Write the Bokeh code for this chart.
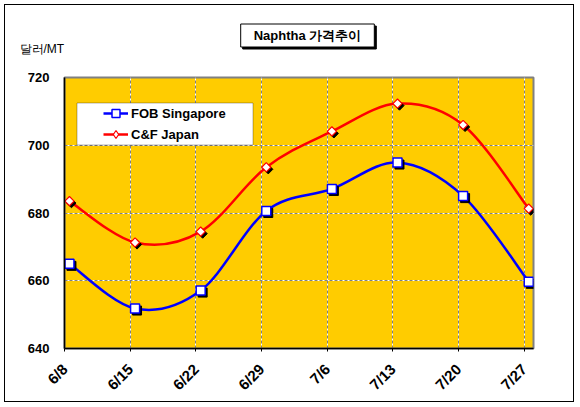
import numpy as np
from bokeh.plotting import figure
from bokeh.models import (ColumnDataSource, Range1d, FixedTicker, Grid, Legend,
                          LegendItem, BoxAnnotation, Label)
from bokeh.transform import dodge
from bokeh.embed import file_html
from bokeh.resources import INLINE

# ---- data ----
dates = ["6/8", "6/15", "6/22", "6/29", "7/6", "7/13", "7/20", "7/27"]
day_offset = [0, 7, 14, 21, 28, 35, 42, 49]
fob_singapore = [665.0, 651.8, 657.1, 680.6, 687.1, 694.9, 685.0, 659.7]
cf_japan = [683.5, 671.3, 674.5, 693.5, 704.1, 712.3, 706.0, 681.3]
y_ticks = [640, 660, 680, 700, 720]
y_grid = [660, 680, 700]
series_names = ["FOB Singapore", "C&F Japan"]
title_text = "Naphtha 가격추이"
unit_text = "달러/MT"

FONT = "Liberation Sans"
OX = 5  # canvas origin inside the 1px chart border (page x = canvas x + OX)

src = ColumnDataSource(dict(x=day_offset, fob=fob_singapore, cf=cf_japan))


def smooth_source(xs, ys):
    xs = np.asarray(xs, float)
    ys = np.asarray(ys, float)
    n = len(xs)
    d = dict(x0=[], y0=[], x1=[], y1=[], cx0=[], cy0=[], cx1=[], cy1=[])
    for i in range(n - 1):
        im = max(i - 1, 0)
        ip = min(i + 2, n - 1)
        d["x0"].append(xs[i]); d["y0"].append(ys[i])
        d["x1"].append(xs[i + 1]); d["y1"].append(ys[i + 1])
        d["cx0"].append(xs[i] + (xs[i + 1] - xs[im]) / 6)
        d["cy0"].append(ys[i] + (ys[i + 1] - ys[im]) / 6)
        d["cx1"].append(xs[i + 1] - (xs[ip] - xs[i]) / 6)
        d["cy1"].append(ys[i + 1] - (ys[ip] - ys[i]) / 6)
    return ColumnDataSource(d)


p = figure(width=570, height=398, output_backend="svg", toolbar_location=None,
           x_range=Range1d(-0.53, 49.51), y_range=Range1d(640, 720),
           min_border_left=64 - OX, min_border_right=42, min_border_top=77 - OX,
           min_border_bottom=55,
           background_fill_color="#FFCC00", border_fill_color="white",
           outline_line_color="#808080", outline_line_width=2,
           styles={"border": "1px solid black", "margin": "4px"})
p.title.visible = False

# axes
tick_pos = [d - 0.5 for d in day_offset]
p.xaxis.ticker = FixedTicker(ticks=tick_pos)
p.xaxis.major_label_overrides = {t: lab for t, lab in zip(tick_pos, dates)}
p.xaxis.major_label_orientation = np.pi / 4
p.xaxis.major_tick_out = 3
p.xaxis.major_tick_in = 0
p.xaxis.minor_tick_out = 0
p.xaxis.major_label_standoff = 15
p.xaxis.major_label_text_font_size = "15px"
p.yaxis.ticker = FixedTicker(ticks=y_ticks)
p.yaxis.major_tick_out = 0
p.yaxis.major_tick_in = 0
p.yaxis.minor_tick_out = 0
p.yaxis.major_label_standoff = 15
p.yaxis.major_label_text_font_size = "13px"
for ax in (p.xaxis, p.yaxis):
    ax.axis_line_color = "black"
    ax.axis_line_width = 1.5
    ax.major_tick_line_color = "black"
    ax.major_label_text_font = FONT
    ax.major_label_text_font_style = "bold"
    ax.major_label_text_color = "black"

# grids: white line with gray dashes on top
p.xgrid.ticker = FixedTicker(ticks=tick_pos[1:])
p.ygrid.ticker = FixedTicker(ticks=y_grid)
for g in (p.xgrid, p.ygrid):
    g.grid_line_color = "white"
    g.grid_line_width = 1
p.add_layout(Grid(dimension=0, ticker=FixedTicker(ticks=tick_pos[1:]),
                  grid_line_color="#808080", grid_line_dash="3 2", grid_line_width=1))
p.add_layout(Grid(dimension=1, ticker=FixedTicker(ticks=y_grid),
                  grid_line_color="#808080", grid_line_dash="3 2", grid_line_width=1))

# smoothed curves
fob_curve = p.bezier(x0="x0", y0="y0", x1="x1", y1="y1", cx0="cx0", cy0="cy0",
                     cx1="cx1", cy1="cy1", source=smooth_source(day_offset, fob_singapore),
                     line_color="#0000FF", line_width=2.5)
cf_curve = p.bezier(x0="x0", y0="y0", x1="x1", y1="y1", cx0="cx0", cy0="cy0",
                    cx1="cx1", cy1="cy1", source=smooth_source(day_offset, cf_japan),
                    line_color="#FF0000", line_width=2.5)

# marker shadows
dx = 0.21
dy = -0.6
p.scatter(x=dodge("x", dx), y=dodge("fob", dy), source=src, marker="square", size=9,
          fill_color="black", line_color="black")
p.scatter(x=dodge("x", dx), y=dodge("cf", dy), source=src, marker="square", size=6.5,
          angle=np.pi / 4, fill_color="black", line_color="black")
fob_marks = p.scatter(x="x", y="fob", source=src, marker="square", size=9,
                      fill_color="white", line_color="#0000FF", line_width=1.5)
cf_marks = p.scatter(x="x", y="cf", source=src, marker="square", size=6.5, angle=np.pi / 4,
                     fill_color="white", line_color="#FF0000", line_width=1.2)
# diamond used only for the legend sample
cf_legend_mark = p.scatter(x="x", y="cf", source=src, marker="diamond", size=10,
                           fill_color="white", line_color="#FF0000", line_width=1.2,
                           visible=False)

# title (with shadow) and unit label, placed in the top panel so they are not clipped
TITLE_PAD = (13, 13, 4, 4)
p.add_layout(Label(x=308 - OX, y=36 - OX, x_units="canvas", y_units="canvas", text=title_text,
                   text_font=FONT, text_font_style="bold", text_font_size="13px",
                   text_align="center", text_baseline="middle", text_color="black",
                   background_fill_color="black", border_line_color="black",
                   padding=TITLE_PAD), "above")
p.add_layout(Label(x=306 - OX, y=34 - OX, x_units="canvas", y_units="canvas", text=title_text,
                   text_font=FONT, text_font_style="bold", text_font_size="13px",
                   text_align="center", text_baseline="middle", text_color="black",
                   background_fill_color="white", border_line_color="black",
                   border_line_width=1, padding=TITLE_PAD), "above")
p.add_layout(Label(x=18 - OX, y=47 - OX, x_units="canvas", y_units="canvas", text=unit_text,
                   text_font=FONT, text_font_size="12px",
                   text_align="left", text_baseline="middle", text_color="black"), "above")

# legend box
p.add_layout(BoxAnnotation(left=75.5 - OX, right=251.5 - OX, top=101.5 - OX,
                           bottom=143.5 - OX,
                           left_units="canvas", right_units="canvas",
                           top_units="canvas", bottom_units="canvas",
                           fill_color="white", fill_alpha=1, line_color="black",
                           line_width=1))
legend = Legend(items=[LegendItem(label=series_names[0], renderers=[fob_curve, fob_marks]),
                       LegendItem(label=series_names[1], renderers=[cf_curve, cf_legend_mark])],
                location=(39, 204), margin=0, padding=0, spacing=1,
                glyph_width=25, glyph_height=20, label_height=20, label_standoff=3,
                background_fill_alpha=0, border_line_alpha=0,
                label_text_font=FONT, label_text_font_style="bold",
                label_text_font_size="13px", label_text_color="black")
p.add_layout(legend, "center")

open("out.html", "w").write(file_html(p, INLINE))
